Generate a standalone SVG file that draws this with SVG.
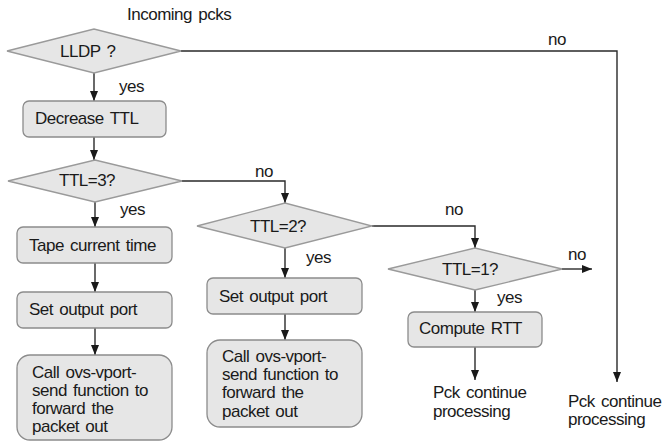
<svg xmlns="http://www.w3.org/2000/svg" width="662" height="443" viewBox="0 0 662 443">
<style>
text{font-family:"Liberation Sans",Arial,sans-serif;font-size:17px;letter-spacing:-0.5px;word-spacing:2px;fill:#1a1a1a}
.box{fill:#e6e6e6;stroke:#8c8c8c;stroke-width:1.3}
.dia{fill:#e6e6e6;stroke:#9a9a9a;stroke-width:1.3}
.ln{fill:none;stroke:#2a2a2a;stroke-width:1.4}
</style>
<defs>
<marker id="arr" markerUnits="userSpaceOnUse" markerWidth="10" markerHeight="10" viewBox="0 0 10 10" refX="10" refY="5" orient="auto">
<path d="M0,1 L10,5 L0,9 Z" fill="#1a1a1a"/>
</marker>
</defs>
<rect width="662" height="443" fill="#ffffff"/>
<g id="connectors">
<path class="ln" d="M94,73 V101" marker-end="url(#arr)"/>
<path class="ln" d="M181,51 H617 V382" marker-end="url(#arr)"/>
<path class="ln" d="M94,137 V160" marker-end="url(#arr)"/>
<path class="ln" d="M95,202 V227" marker-end="url(#arr)"/>
<path class="ln" d="M182,181 H285 V203" marker-end="url(#arr)"/>
<path class="ln" d="M95,263 V292" marker-end="url(#arr)"/>
<path class="ln" d="M95,328 V355" marker-end="url(#arr)"/>
<path class="ln" d="M285,248 V278" marker-end="url(#arr)"/>
<path class="ln" d="M372,226 H475 V248" marker-end="url(#arr)"/>
<path class="ln" d="M285,314 V340" marker-end="url(#arr)"/>
<path class="ln" d="M562,269 H592" marker-end="url(#arr)"/>
<path class="ln" d="M475,290 V312" marker-end="url(#arr)"/>
<path class="ln" d="M475,347 V380" marker-end="url(#arr)"/>
<text x="119" y="92">yes</text>
<text x="120" y="215">yes</text>
<text x="255" y="177">no</text>
<text x="306" y="263">yes</text>
<text x="445" y="215">no</text>
<text x="568" y="260">no</text>
<text x="497" y="303">yes</text>
<text x="548" y="45">no</text>
</g>
<g id="start"><text x="127" y="20">Incoming pcks</text></g>
<g id="lldp">
<polygon class="dia" points="7,51 94,29 181,51 94,73"/>
<text x="60" y="57">LLDP ?</text>
</g>
<g id="decrease">
<rect class="box" x="23" y="101" width="143" height="36" rx="6"/>
<text x="35" y="124">Decrease TTL</text>
</g>
<g id="ttl3">
<polygon class="dia" points="8,181 95,160 182,181 95,202"/>
<text x="59" y="186">TTL=3?</text>
</g>
<g id="tape">
<rect class="box" x="17" y="227" width="155" height="36" rx="6"/>
<text x="29" y="251">Tape current time</text>
</g>
<g id="setL">
<rect class="box" x="17" y="292" width="155" height="36" rx="6"/>
<text x="29" y="315">Set output port</text>
</g>
<g id="callL">
<rect class="box" x="17" y="355" width="155" height="85" rx="13"/>
<text x="32" y="378">Call ovs-vport-</text>
<text x="32" y="396">send function to</text>
<text x="32" y="414">forward the</text>
<text x="32" y="432">packet out</text>
</g>
<g id="ttl2">
<polygon class="dia" points="197,226 285,203 372,226 285,248"/>
<text x="250" y="232">TTL=2?</text>
</g>
<g id="setM">
<rect class="box" x="207" y="278" width="155" height="36" rx="6"/>
<text x="219" y="302">Set output port</text>
</g>
<g id="callM">
<rect class="box" x="207" y="340" width="155" height="87" rx="13"/>
<text x="222" y="362">Call ovs-vport-</text>
<text x="222" y="380">send function to</text>
<text x="222" y="398">forward the</text>
<text x="222" y="417">packet out</text>
</g>
<g id="ttl1">
<polygon class="dia" points="388,269 475,248 562,269 475,290"/>
<text x="442" y="275">TTL=1?</text>
</g>
<g id="compute">
<rect class="box" x="408" y="312" width="134" height="35" rx="6"/>
<text x="419" y="334">Compute RTT</text>
</g>
<g id="endM">
<text x="433" y="398">Pck continue</text>
<text x="433" y="417">processing</text>
</g>
<g id="endR">
<text x="568" y="407">Pck continue</text>
<text x="568" y="425">processing</text>
</g>
</svg>
